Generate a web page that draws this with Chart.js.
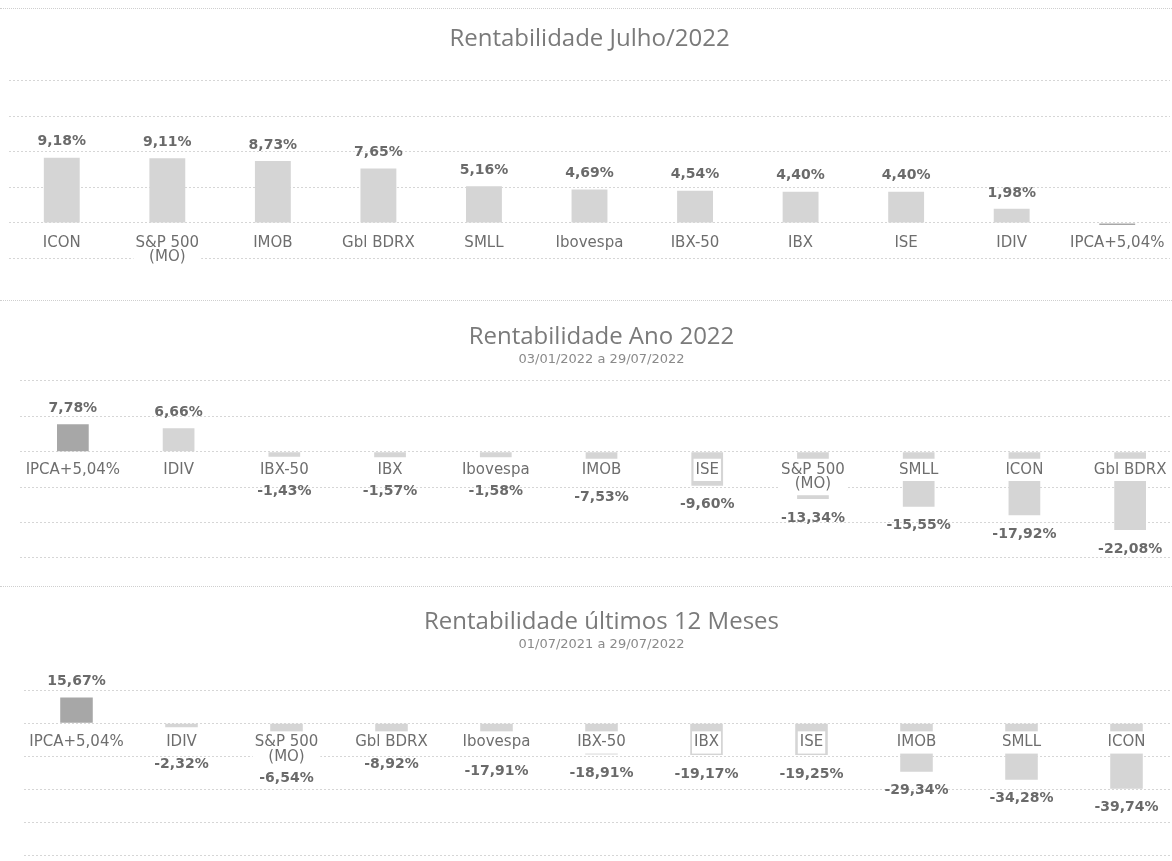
<!DOCTYPE html>
<html lang="pt-BR">
<head>
<meta charset="utf-8">
<title>Rentabilidade</title>
<script src="https://cdn.jsdelivr.net/npm/chart.js@4.4.1/dist/chart.umd.min.js"></script>
<style>
  html, body { margin: 0; padding: 0; background: #ffffff; }
  body { width: 1172px; height: 861px; overflow: hidden; position: relative; }
  .box { position: absolute; left: 0; }
  .rule { position: absolute; left: 0; width: 1172px; height: 0; border-top: 1px dotted #cfcfcf; }
</style>
</head>
<body>
<div class="rule" style="top:8px"></div>
<div class="rule" style="top:300px"></div>
<div class="rule" style="top:586px"></div>
<div class="box" style="top:0px"><canvas id="c1" width="1180" height="290"></canvas></div>
<div class="box" style="top:292px"><canvas id="c2" width="1190" height="296"></canvas></div>
<div class="box" style="top:590px"><canvas id="c3" width="1190" height="271"></canvas></div>
<script>
// ---------- DATA ----------
const julhoTitulo = 'Rentabilidade Julho/2022';
const julhoCategorias = ['ICON', ['S&P 500', '(MO)'], 'IMOB', 'Gbl BDRX', 'SMLL', 'Ibovespa', 'IBX-50', 'IBX', 'ISE', 'IDIV', 'IPCA+5,04%'];
const julhoValores = [9.18, 9.11, 8.73, 7.65, 5.16, 4.69, 4.54, 4.40, 4.40, 1.98, -0.28];
const julhoSemRotulo = ['IPCA+5,04%'];

const anoTitulo = 'Rentabilidade Ano 2022';
const anoPeriodo = '03/01/2022 a 29/07/2022';
const anoCategorias = ['IPCA+5,04%', 'IDIV', 'IBX-50', 'IBX', 'Ibovespa', 'IMOB', 'ISE', ['S&P 500', '(MO)'], 'SMLL', 'ICON', 'Gbl BDRX'];
const anoValores = [7.78, 6.66, -1.43, -1.57, -1.58, -7.53, -9.60, -13.34, -15.55, -17.92, -22.08];

const mesesTitulo = 'Rentabilidade últimos 12 Meses';
const mesesPeriodo = '01/07/2021 a 29/07/2022';
const mesesCategorias = ['IPCA+5,04%', 'IDIV', ['S&P 500', '(MO)'], 'Gbl BDRX', 'Ibovespa', 'IBX-50', 'IBX', 'ISE', 'IMOB', 'SMLL', 'ICON'];
const mesesValores = [15.67, -2.32, -6.54, -8.92, -17.91, -18.91, -19.17, -19.25, -29.34, -34.28, -39.74];

const destaque = 'IPCA+5,04%';

// ---------- HELPERS ----------
const LABEL_FONT = '"DejaVu Sans", Verdana, sans-serif';
const TITLE_FONT = '"Open Sans", "Noto Sans", sans-serif';
const TICK_SIZE = 15;
const TICK_LH = 14.25;

function fmt(v) {
  return v.toFixed(2).replace('.', ',') + '%';
}
function nomeDe(label) {
  return Array.isArray(label) ? label.join(' ') : label;
}

// white box behind each category label (drawn over the bars, under the tick text)
const tickBackdrop = {
  id: 'tickBackdrop',
  afterDatasetsDraw(chart, args, opts) {
    const xs = chart.scales.x;
    const zero = chart.scales.y.getPixelForValue(0);
    const ctx = chart.ctx;
    ctx.save();
    ctx.font = TICK_SIZE + 'px ' + LABEL_FONT;
    ctx.fillStyle = '#ffffff';
    chart.data.labels.forEach((label, i) => {
      const lines = Array.isArray(label) ? label : [label];
      const w = Math.max(...lines.map(s => ctx.measureText(s).width));
      const px = xs.getPixelForTick(i);
      const top = zero + opts.tickPad - 4;
      const h = lines.length * TICK_LH + 8;
      ctx.fillRect(px - w / 2 - 2, top, w + 4, h);
    });
    ctx.restore();
  }
};

const valueLabels = {
  id: 'valueLabels',
  afterDraw(chart, args, opts) {
    const ctx = chart.ctx;
    const meta = chart.getDatasetMeta(0);
    const ds = chart.data.datasets[0];
    const zero = chart.scales.y.getPixelForValue(0);
    ctx.save();
    ctx.font = 'bold 14px ' + LABEL_FONT;
    ctx.fillStyle = '#6a6a6a';
    ctx.textAlign = 'center';
    ctx.textBaseline = 'middle';
    meta.data.forEach((bar, i) => {
      const label = chart.data.labels[i];
      if ((opts.skip || []).includes(nomeDe(label))) return;
      const v = ds.data[i];
      const lines = Array.isArray(label) ? label.length : 1;
      let y;
      if (v >= 0) {
        y = bar.y - 16;
      } else {
        y = Math.max(bar.y + 19, zero + opts.tickPad + lines * 14 + 15);
      }
      ctx.fillText(fmt(v), bar.x, y);
    });
    ctx.restore();
  }
};

function makeChart(id, cfg) {
  const colors = cfg.labels.map(l => nomeDe(l) === destaque ? '#a7a7a7' : '#d5d5d5');
  const plugins = {
    legend: { display: false },
    tooltip: { enabled: false },
    title: {
      display: true,
      text: cfg.title,
      color: '#7a7a7a',
      font: { family: TITLE_FONT, size: 24, weight: 'normal', lineHeight: 1.2 },
      padding: { top: cfg.titleTop, bottom: cfg.subtitle ? 0 : cfg.titleBottom }
    },
    subtitle: {
      display: !!cfg.subtitle,
      text: cfg.subtitle || '',
      color: '#8a8a8a',
      font: { family: LABEL_FONT, size: 13, weight: 'normal', lineHeight: 1.2 },
      padding: { top: 0, bottom: cfg.titleBottom }
    },
    tickBackdrop: { tickPad: cfg.tickPad },
    valueLabels: { tickPad: cfg.tickPad, skip: cfg.skip || [] }
  };
  return new Chart(document.getElementById(id), {
    type: 'bar',
    data: {
      labels: cfg.labels,
      datasets: [{
        data: cfg.values,
        backgroundColor: colors,
        borderWidth: 0,
        barPercentage: cfg.barPct,
        categoryPercentage: 1
      }]
    },
    options: {
      responsive: false,
      animation: false,
      devicePixelRatio: 1,
      layout: { padding: { left: cfg.padL, right: cfg.padR, top: 0, bottom: 0 } },
      plugins: plugins,
      scales: {
        x: {
          type: 'category',
          position: { y: 0 },
          grid: { display: false, drawTicks: false },
          border: { display: false },
          ticks: {
            z: 1,
            autoSkip: false,
            maxRotation: 0,
            minRotation: 0,
            padding: cfg.tickPad,
            color: '#6e6e6e',
            font: { family: LABEL_FONT, size: TICK_SIZE, lineHeight: TICK_LH + 'px' }
          }
        },
        y: {
          min: cfg.min,
          max: cfg.max,
          grid: { color: '#d6d6d6', lineWidth: 1, drawTicks: false },
          border: { display: false, dash: [2, 2] },
          ticks: { display: false, stepSize: cfg.step, includeBounds: false }
        }
      }
    },
    plugins: [tickBackdrop, valueLabels]
  });
}

// ---------- CHARTS ----------
makeChart('c1', {
  title: julhoTitulo, labels: julhoCategorias, values: julhoValores, skip: julhoSemRotulo,
  titleTop: 25, titleBottom: 10, min: -9.44, max: 22.4, step: 5,
  padL: 9, padR: 10, tickPad: 13, barPct: 0.34
});
makeChart('c2', {
  title: anoTitulo, subtitle: anoPeriodo, labels: anoCategorias, values: anoValores,
  titleTop: 31, titleBottom: 10, min: -38.5, max: 21.0, step: 10,
  padL: 20, padR: 7, tickPad: 11, barPct: 0.3
});
makeChart('c3', {
  title: mesesTitulo, subtitle: mesesPeriodo, labels: mesesCategorias, values: mesesValores,
  titleTop: 18, titleBottom: 10, min: -83.6, max: 37.0, step: 20,
  padL: 24, padR: 11, tickPad: 12, barPct: 0.31
});
</script>
</body>
</html>
